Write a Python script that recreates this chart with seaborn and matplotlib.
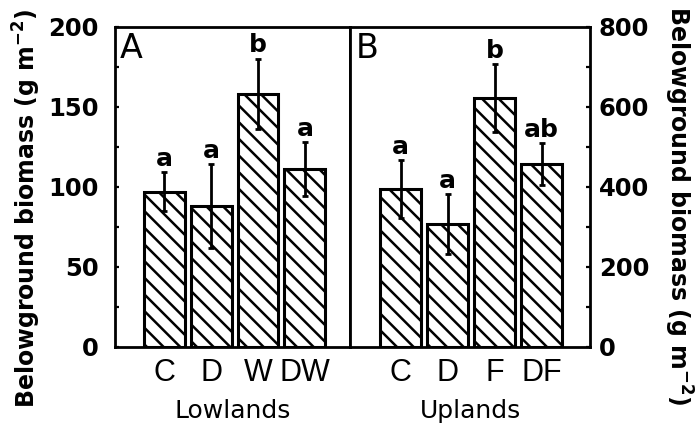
import matplotlib
matplotlib.use("Agg")
import matplotlib.pyplot as plt
import seaborn as sns
import pandas as pd
import numpy as np
from matplotlib.ticker import MultipleLocator
from matplotlib import font_manager

# ---- data ----
low_cats = ["C", "D", "W", "DW"]
low_mean = [97, 88, 158, 111]
low_se = [12, 26, 22, 17]
low_letters = ["a", "a", "b", "a"]

up_cats = ["C", "D", "F", "DF"]
up_mean = [395, 307, 622, 457]
up_se = [72, 75, 85, 52]
up_letters = ["a", "a", "b", "ab"]

ylabel = "Belowground biomass (g m$^{-2}$)"

sns.set_style("ticks")
plt.rcParams["font.family"] = ["DejaVu Sans"]
plt.rcParams["mathtext.fontset"] = "custom"
plt.rcParams["mathtext.rm"] = "DejaVu Sans:bold"
plt.rcParams["mathtext.it"] = "DejaVu Sans:bold"
plt.rcParams["mathtext.bf"] = "DejaVu Sans:bold"
plt.rcParams["hatch.linewidth"] = 1.8
plt.rcParams["hatch.color"] = "black"
for k in ["text.color", "axes.labelcolor", "xtick.color", "ytick.color",
          "axes.edgecolor", "xtick.labelcolor", "ytick.labelcolor"]:
    plt.rcParams[k] = "black"

names = {f.name for f in font_manager.fontManager.ttflist}
narrow = "Liberation Sans Narrow" if "Liberation Sans Narrow" in names else "Liberation Sans"

fig = plt.figure(figsize=(6.97, 4.23), dpi=100)
axL = fig.add_axes([0.165, 0.1797, 0.337, 0.757])
axR = fig.add_axes([0.502, 0.1797, 0.345, 0.757])


def draw(ax, cats, mean, se, letters, ymax, minor, major, xlim, name, panel, px):
    df = pd.DataFrame({"cat": cats, "val": mean})
    sns.barplot(data=df, x="cat", y="val", ax=ax, color="white", width=0.87,
                edgecolor="black", linewidth=2.2, hatch="\\\\", errorbar=None,
                saturation=1)
    xs = np.arange(len(cats))
    ax.errorbar(xs, mean, yerr=se, fmt="none", ecolor="black", elinewidth=2.0,
                capsize=2.5, capthick=2.0, zorder=5)
    for x, m, s, t in zip(xs, mean, se, letters):
        ax.annotate(t, (x, m + s), xytext=(0, 1), textcoords="offset points",
                    ha="center", va="bottom", fontsize=18, fontweight="bold")
    ax.set_ylim(0, ymax)
    ax.set_xlim(*xlim)
    ax.yaxis.set_major_locator(MultipleLocator(major))
    ax.yaxis.set_minor_locator(MultipleLocator(minor))
    ax.tick_params(axis="x", length=0, pad=8)
    for lab in ax.get_xticklabels():
        lab.set_fontfamily([narrow, "DejaVu Sans"])
        lab.set_fontsize(22)
    ax.tick_params(axis="y", which="both", direction="in", length=3, width=1.6)
    ax.set_xlabel(name, fontsize=18, labelpad=8)
    for sp in ax.spines.values():
        sp.set_visible(True)
        sp.set_linewidth(2.0)
        sp.set_color("black")
    ax.text(px, 0.985, panel, transform=ax.transAxes,
            ha="left", va="top", fontsize=24, fontweight="normal")


draw(axL, low_cats, low_mean, low_se, low_letters, 200, 25, 50, (-1.05, 3.96),
     "Lowlands", "A", 0.02)
draw(axR, up_cats, up_mean, up_se, up_letters, 800, 100, 200, (-1.085, 4.04),
     "Uplands", "B", 0.025)

axL.tick_params(axis="y", which="both", left=True, right=False, pad=12)
axR.yaxis.tick_right()
axR.tick_params(axis="y", which="both", left=False, right=True, pad=6)
axR.yaxis.set_label_position("right")
for ax in (axL, axR):
    for tk in ax.yaxis.get_major_ticks():
        for lab in (tk.label1, tk.label2):
            lab.set_fontweight("bold")
            lab.set_fontsize(17.5)

axL.set_ylabel(ylabel, fontsize=17, fontweight="bold", rotation=90,
               ha="center", va="center", rotation_mode="anchor")
axL.yaxis.set_label_coords(-0.375, 0.434)
axR.set_ylabel(ylabel, fontsize=17, fontweight="bold", rotation=270,
               ha="center", va="center", rotation_mode="anchor")
axR.yaxis.set_label_coords(1.365, 0.44)

fig.savefig("out.png", dpi=100)
